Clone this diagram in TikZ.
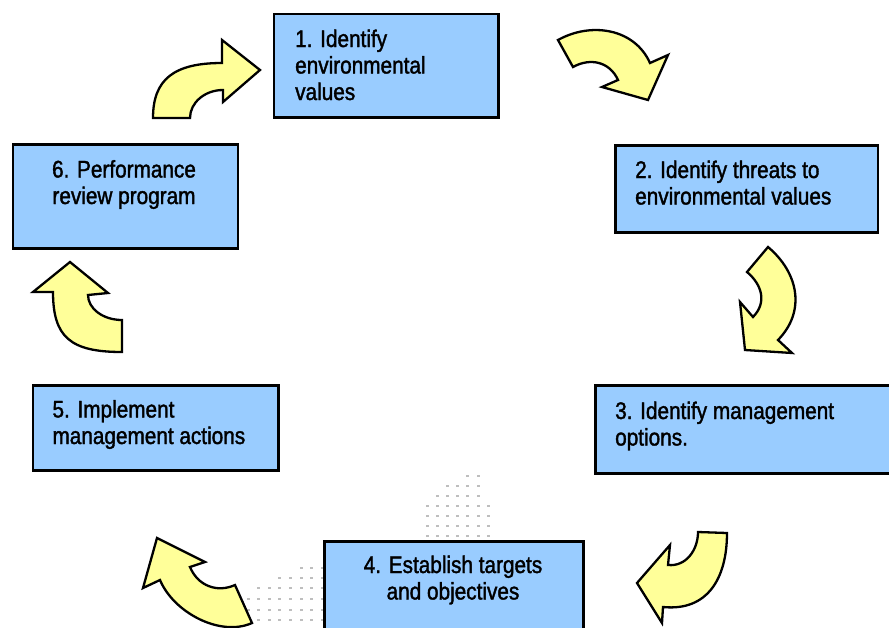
\documentclass[tikz,border=0pt]{standalone}
\usepackage{fontspec}
\setmainfont{Liberation Sans}[FakeStretch=0.865,FakeBold=1.5]
\definecolor{boxblue}{RGB}{153,204,255}
\definecolor{arrowyellow}{RGB}{255,255,153}
\definecolor{dashgray}{RGB}{190,190,190}
\begin{document}
\begin{tikzpicture}[x=1pt,y=-1pt,
  box/.style={draw=black, line width=2.6pt, fill=boxblue, inner sep=0pt, anchor=north west},
  lbl/.style={font=\fontsize{24}{26.5}\selectfont, align=left, inner sep=0pt, anchor=base west},
  clbl/.style={font=\fontsize{24}{26.5}\selectfont, align=center, inner sep=0pt, anchor=base},
  carrow/.style={draw=black, line width=2.3pt, fill=arrowyellow, line join=miter}]
\useasboundingbox (0,0) rectangle (889,627);
\clip (0,0) rectangle (889,627);
% faint dash pattern
\foreach \yy/\a/\b in {476/4/5, 486/2/5, 496/1/5, 506/0/6, 516/0/6, 526/0/6, 536/0/6}
  \foreach \i in {\a,...,\b}
    \fill[dashgray] (427+10.2*\i-1.5,\yy-0.6) rectangle ++(3,1.2);
\foreach \yy/\a/\b in {568/5/7, 578/3/7, 588/1/7, 599/0/7, 610/0/7, 620/0/7}
  \foreach \i in {\a,...,\b}
    \fill[dashgray] (248+10.6*\i-1.5,\yy-0.6) rectangle ++(3,1.2);
% boxes
\node[box, minimum width=224.6pt, minimum height=103.3pt] (b1) at (272.7,12.7) {};
\node[box, minimum width=262.4pt, minimum height=87pt] (b2) at (614.3,144) {};
\node[box, minimum width=311pt, minimum height=88.3pt] (b3) at (594,384) {};
\node[box, minimum width=258.7pt, minimum height=100pt] (b4) at (323.3,540) {};
\node[box, minimum width=245.6pt, minimum height=85pt] (b5) at (31.7,384) {};
\node[box, minimum width=225pt, minimum height=104pt] (b6) at (11.7,143.3) {};
% labels (anchored at the baseline of the last line)
\node[lbl] (t1) at (295,100) {1. Identify\\environmental\\values};
\node[lbl] (t2) at (635,204.5) {2. Identify threats to\\environmental values};
\node[lbl] (t3) at (615,445.5) {3. Identify management\\options.};
\node[clbl] (t4) at (453,599.5) {4. Establish targets\\and objectives};
\node[lbl] (t5) at (52.3,444) {5. Implement\\management actions};
\node[clbl] (t6) at (124,204) {6. Performance\\review program};
% curved block arrows
\draw[carrow] (153,118) .. controls (153,79.5) and (173.7,63) .. (222,63) -- (222,40) -- (260,70) -- (223,102) -- (223,90) .. controls (204.9,90) and (190,102.6) .. (190,118) -- cycle;
\draw[carrow] (558,40) .. controls (591,21.6) and (634.5,28.3) .. (650,63) -- (668,55) -- (648,100) -- (602,87) -- (618,80) .. controls (609.8,61.8) and (590.5,57.3) .. (573,67) -- cycle;
\draw[carrow] (768,247) .. controls (798.7,272.8) and (806,311.4) .. (778,340) -- (792,353) -- (745,350) -- (740,302) -- (753,317) .. controls (767,302.7) and (762.3,284.9) .. (747,272) -- cycle;
\draw[carrow] (727,533) .. controls (727,578) and (707.8,611.5) .. (663,607) -- (662,623) -- (637,583) -- (670,545) -- (668,565) .. controls (686,566.8) and (698,550) .. (698,532) -- cycle;
\draw[carrow] (235,585) .. controls (216.7,593.2) and (197.7,585.5) .. (190,567) -- (205,562) -- (157,538) -- (143,588) -- (160,580) .. controls (173.5,612.3) and (220,637.3) .. (252,623) -- cycle;
\draw[carrow] (122,320) .. controls (103.3,320) and (88,308.75) .. (88,295) -- (108,293) -- (70,262) -- (33,292) -- (53,292) .. controls (53,337) and (70.25,352) .. (122,352) -- cycle;
\end{tikzpicture}
\end{document}
